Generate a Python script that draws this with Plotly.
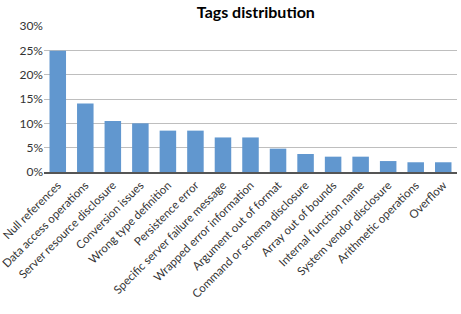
import plotly.graph_objects as go

categories = ["Null references", "Data access operations", "Server resource disclosure",
              "Conversion issues", "Wrong type definition", "Persistence error",
              "Specific server failure message", "Wrapped error information",
              "Argument out of format", "Command or schema disclosure",
              "Array out of bounds", "Internal function name",
              "System vendor disclosure", "Arithmetic operations", "Overflow"]
values = [0.249, 0.141, 0.105, 0.100, 0.085, 0.085, 0.071, 0.071,
          0.048, 0.037, 0.0315, 0.0315, 0.0225, 0.020, 0.020]
y_ticks = [0, 0.05, 0.10, 0.15, 0.20, 0.25, 0.30]

fig = go.Figure(go.Bar(x=categories, y=values, marker_color="#6197CF",
                       marker_line_width=0))
fig.update_layout(
    width=461, height=314,
    margin=dict(l=44, r=4, t=26, b=142),
    paper_bgcolor="white", plot_bgcolor="white",
    bargap=0.4,
    font=dict(family="Lato, Open Sans, sans-serif", size=12, color="#333"),
    title=dict(text="<b>Tags distribution</b>", x=0.555, xanchor="center",
               y=0.962, yanchor="middle", font=dict(size=16, color="black")),
    showlegend=False,
)
fig.update_yaxes(range=[0, 0.30], tickvals=y_ticks, tickformat=".0%",
                 showgrid=True, gridcolor="#BEBEBE", gridwidth=1,
                 zeroline=False, showline=False, ticks="", ticklen=0,
                 tickfont=dict(size=12), automargin=False)
fig.update_xaxes(tickangle=-45, showline=True, linecolor="#555", linewidth=2,
                 ticks="", tickfont=dict(size=11.5), automargin=False)
fig.write_html("out.html")
